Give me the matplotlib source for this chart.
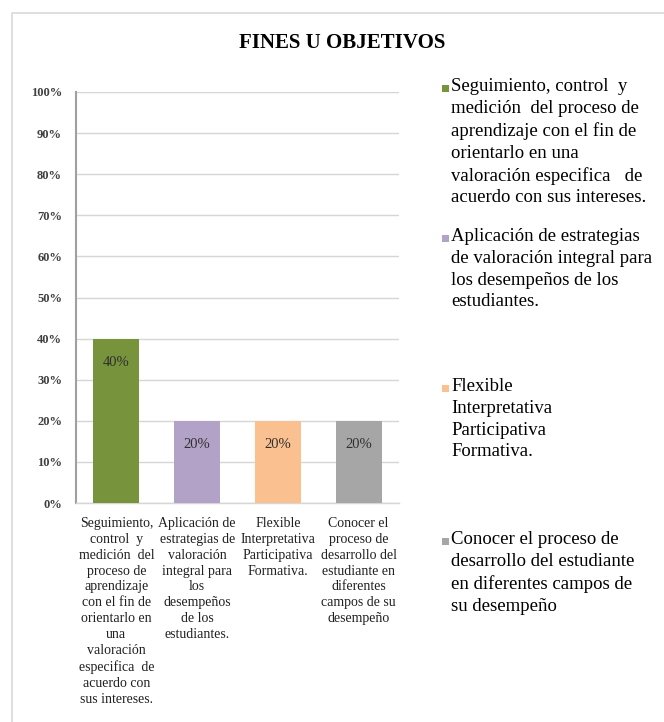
import matplotlib
matplotlib.use("Agg")
import matplotlib.pyplot as plt
from matplotlib.patches import Rectangle

categories = [
    "Seguimiento,\ncontrol  y\nmedición  del\nproceso de\naprendizaje\ncon el fin de\norientarlo en\nuna\nvaloración\nespecifica  de\nacuerdo con\nsus intereses.",
    "Aplicación de\nestrategias de\nvaloración\nintegral para\nlos\ndesempeños\nde los\nestudiantes.",
    "Flexible\nInterpretativa\nParticipativa\nFormativa.",
    "Conocer el\nproceso de\ndesarrollo del\nestudiante en\ndiferentes\ncampos de su\ndesempeño",
]
legend_labels = [
    "Seguimiento, control  y\nmedición  del proceso de\naprendizaje con el fin de\norientarlo en una\nvaloración especifica   de\nacuerdo con sus intereses.",
    "Aplicación de estrategias\nde valoración integral para\nlos desempeños de los\nestudiantes.",
    "Flexible\nInterpretativa\nParticipativa\nFormativa.",
    "Conocer el proceso de\ndesarrollo del estudiante\nen diferentes campos de\nsu desempeño",
]
values = [40, 20, 20, 20]
bar_labels = ["40%", "20%", "20%", "20%"]
yticks = [0, 10, 20, 30, 40, 50, 60, 70, 80, 90, 100]
colors = ["#77933C", "#B3A2C7", "#FAC090", "#A6A6A6"]

plt.rcParams['font.family'] = ['Liberation Serif', 'DejaVu Serif']

W, H = 664, 722
fig = plt.figure(figsize=(W / 100, H / 100), dpi=100)

# outer chart border
fig.patches.append(Rectangle((12 / W, -0.1), 1.2, 1 - 13 / H + 0.1,
                             transform=fig.transFigure, fill=False,
                             edgecolor="#D9D9D9", linewidth=1.2))

ax = fig.add_axes([76 / W, 1 - 503 / H, (399 - 76) / W, (503 - 92) / H])
x = list(range(len(values)))
bars = ax.bar(x, values, width=0.57, color=colors, zorder=3)
ax.set_xlim(-0.5, len(values) - 0.5)
ax.set_ylim(0, 100)
ax.set_yticks(yticks)
ax.set_yticklabels([f"{t}%" for t in yticks], fontsize=9, fontweight="bold", color="#404040")
ax.yaxis.grid(True, color="#D6D6D6", linewidth=1, zorder=0)
ax.set_xticks(x)
ax.set_xticklabels(categories, fontsize=10, linespacing=1.29, color="#202020", va="top")
ax.tick_params(axis="x", length=0, pad=10)
ax.tick_params(axis="y", length=0, pad=10)
for s in ["top", "right"]:
    ax.spines[s].set_visible(False)
ax.spines["left"].set_color("#A0A0A0")
ax.spines["left"].set_linewidth(1.5)
ax.spines["bottom"].set_color("#D6D6D6")
ax.spines["bottom"].set_linewidth(1)

for xi, v, lab in zip(x, values, bar_labels):
    ax.annotate(lab, xy=(xi, v), xytext=(0, -17), textcoords="offset points",
                ha="center", va="center", fontsize=10.5, color="#303030", zorder=4)

fig.text(342 / W, 1 - 43 / H, "FINES U OBJETIVOS", ha="center", va="center",
         fontsize=15, fontweight="bold", color="#000000")

# legend
leg_tops = [78, 228, 378, 531]
for lab, c, top in zip(legend_labels, colors, leg_tops):
    fig.patches.append(Rectangle((442 / W, 1 - (top + 14) / H), 7 / W, 7 / H,
                                 transform=fig.transFigure, facecolor=c, edgecolor="none"))
    fig.text(451 / W, 1 - top / H, lab, ha="left", va="top", fontsize=13.5,
             linespacing=1.37, color="#000000")

fig.savefig("out.png", dpi=100)
